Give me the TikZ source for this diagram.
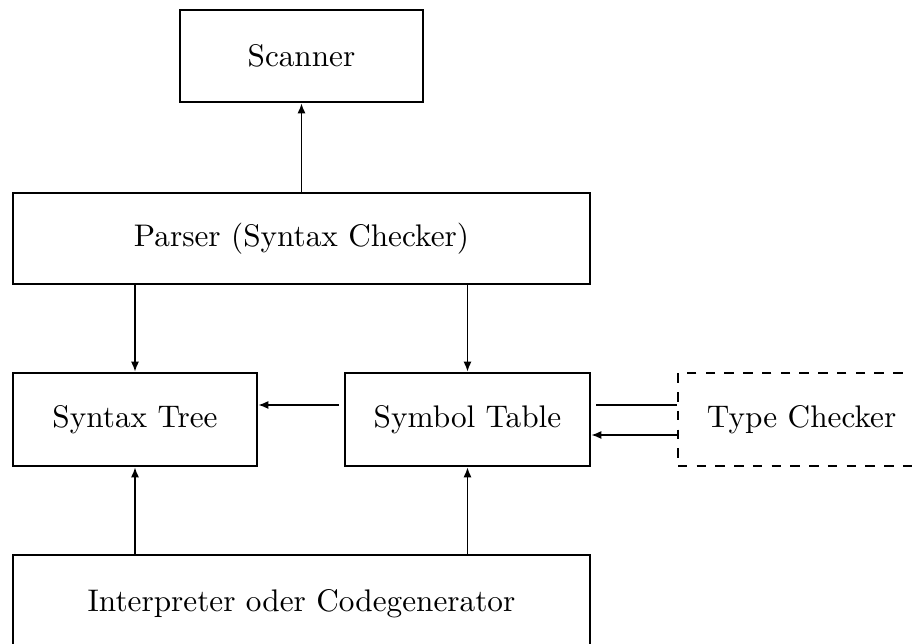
\documentclass[tikz,border=0pt]{standalone}
\usetikzlibrary{arrows.meta}
\begin{document}
\def\u{0.32pt}
\begin{tikzpicture}[x=0.32pt,y=-0.32pt,
  box/.style={draw,line width=0.9pt,inner sep=0pt,font=\normalsize},
  conn/.style={line width=0.45pt,-{Latex[length=3.2pt,width=2.6pt]}},
  plain/.style={line width=0.45pt}]
\useasboundingbox (0,0) rectangle (912,644);
\node[box,minimum width=243*\u,minimum height=92*\u] (scanner) at (301.5,56) {Scanner};
\node[box,minimum width=577*\u,minimum height=91*\u] (parser) at (301.5,238.5) {Parser (Syntax Checker)};
\node[box,minimum width=244*\u,minimum height=93*\u] (tree) at (135,419.5) {Syntax Tree};
\node[box,minimum width=245*\u,minimum height=93*\u] (symtab) at (467.5,419.5) {Symbol Table};
\node[box,dashed,minimum width=272*\u,minimum height=93*\u,text width=264*\u,align=left] (type) at (814,419.5) {\hspace*{8pt}Type Checker};
\node[box,minimum width=577*\u,minimum height=135*\u] (interp) at (301.5,622.5) {\raisebox{14.4pt}{Interpreter oder Codegenerator}};
\draw[conn] (parser.north -| scanner.south) -- (scanner.south);
\draw[conn] (parser.south -| tree.north) -- (tree.north);
\draw[conn] (parser.south -| symtab.north) -- (symtab.north);
\draw[conn] ([xshift=-5*\u,yshift=14.5*\u]symtab.west) -- ([yshift=14.5*\u]tree.east);
\draw[plain] ([xshift=5*\u,yshift=14.5*\u]symtab.east) -- ([yshift=14.5*\u]type.west);
\draw[conn] ([yshift=-15.5*\u]type.west) -- ([yshift=-15.5*\u]symtab.east);
\draw[conn] (interp.north -| tree.south) -- (tree.south);
\draw[conn] (interp.north -| symtab.south) -- (symtab.south);
\end{tikzpicture}
\end{document}
